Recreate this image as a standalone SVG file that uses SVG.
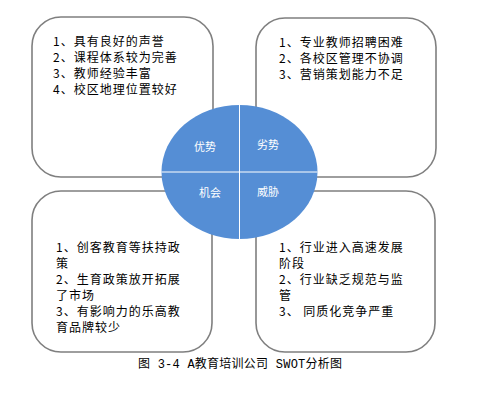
<svg xmlns="http://www.w3.org/2000/svg" width="486" height="401" viewBox="0 0 486 401">
<style>
.box{fill:#fff;stroke:#7f7f7f;stroke-width:1.6}
.t{font-family:"Noto Sans CJK SC","Liberation Sans",sans-serif;font-size:12px;letter-spacing:1px;fill:#000}
.q{font-family:"Noto Sans CJK SC","Liberation Sans",sans-serif;font-size:11px;fill:#fff;text-anchor:middle}
.cap{font-family:"Liberation Mono","Noto Sans CJK SC",monospace;font-size:12px;fill:#000}
</style>
<rect width="486" height="401" fill="#fff"/>
<g id="strengths">
<rect class="box" x="32" y="17" width="181" height="160" rx="29"/>
<text class="t" x="53" y="46">1、具有良好的声誉</text>
<text class="t" x="53" y="62">2、课程体系较为完善</text>
<text class="t" x="53" y="78">3、教师经验丰富</text>
<text class="t" x="53" y="94">4、校区地理位置较好</text>
</g>
<g id="weaknesses">
<rect class="box" x="256" y="18" width="180" height="159" rx="29"/>
<text class="t" x="279" y="47">1、专业教师招聘困难</text>
<text class="t" x="279" y="63">2、各校区管理不协调</text>
<text class="t" x="279" y="79">3、营销策划能力不足</text>
</g>
<g id="opportunities">
<rect class="box" x="32" y="191" width="180" height="161" rx="29"/>
<text class="t" x="56" y="252">1、创客教育等扶持政</text>
<text class="t" x="56" y="268">策</text>
<text class="t" x="56" y="284">2、生育政策放开拓展</text>
<text class="t" x="56" y="300">了市场</text>
<text class="t" x="56" y="316">3、有影响力的乐高教</text>
<text class="t" x="56" y="332">育品牌较少</text>
</g>
<g id="threats">
<rect class="box" x="256" y="191" width="179" height="161" rx="29"/>
<text class="t" x="279" y="252">1、行业进入高速发展</text>
<text class="t" x="279" y="268">阶段</text>
<text class="t" x="279" y="284">2、行业缺乏规范与监</text>
<text class="t" x="279" y="300">管</text>
<text class="t" x="279" y="316">3、 同质化竞争严重</text>
</g>
<g id="swot-circle">
<ellipse cx="239.5" cy="172" rx="78" ry="67" fill="#558ed5"/>
<line x1="239.5" y1="105" x2="239.5" y2="239" stroke="#fff" stroke-width="1"/>
<line x1="161.5" y1="172" x2="317.5" y2="172" stroke="#fff" stroke-width="1"/>
<text class="q" x="205" y="151">优势</text>
<text class="q" x="268" y="149">劣势</text>
<text class="q" x="210" y="197">机会</text>
<text class="q" x="268" y="196">威胁</text>
</g>
<g id="connectors"></g>
<text class="cap" x="138" y="368" textLength="204" lengthAdjust="spacing">图 3-4  A教育培训公司 SWOT分析图</text>
</svg>
